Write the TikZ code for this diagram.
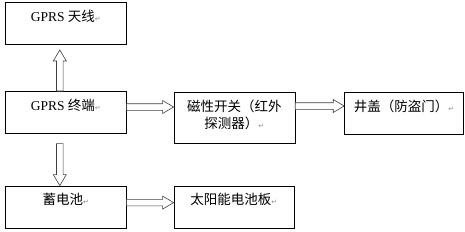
\documentclass[tikz,border=0pt]{standalone}
\usepackage{fontspec}
\setmainfont{Liberation Serif}
\newfontfamily\cjk{Noto Sans CJK SC}
\newfontfamily\retfont{DejaVu Sans}
\usetikzlibrary{positioning, calc}
\newcommand{\retmark}{{\retfont\fontsize{7}{7}\selectfont\color{black!45}↵}}
% hollow block arrow from #1 to #2 (tip at #2)
\newcommand{\hollowarrow}[2]{%
  \coordinate (hb) at ($(#2)!11pt!(#1)$);
  \draw[hollow] ($(#1)!3.3pt!90:(#2)$) -- ($(hb)!3.3pt!90:(#2)$) -- ($(hb)!6.5pt!90:(#2)$)
    -- (#2) -- ($(hb)!6.5pt!-90:(#2)$) -- ($(hb)!3.3pt!-90:(#2)$) -- ($(#1)!3.3pt!-90:(#2)$) -- cycle;
}

\begin{document}
\begin{tikzpicture}[
      node distance=46pt and 47pt,
      box/.style={draw, line width=0.6pt, minimum width=121pt, inner xsep=2pt, inner ysep=0pt, text height=19pt, text depth=23pt, align=center, font=\fontsize{13.5}{17}\selectfont},
      tall/.style={box, text height=36pt, text depth=15pt},
      hollow/.style={draw=black!75, fill=white, line width=0.6pt, line join=miter}
  ]
    \useasboundingbox (0,0) rectangle (465pt,231pt);

    \node[box, anchor=north west] (term) at (5pt,140pt) {GPRS {\cjk 终端}\retmark};
    \node[box, above=of term] (antenna) {GPRS {\cjk 天线}\retmark};
    \node[box, below=52pt of term] (battery) {{\cjk 蓄电池}\retmark};

    \node[tall, right=47pt of term.north east, anchor=north west, yshift=-1pt] (switch) {{\cjk 磁性开关（红外}\\{\cjk 探测器）}\retmark};
    \node[box, right=49pt of switch.north east, anchor=north west, minimum width=119pt] (cover) {{\cjk 井盖（防盗门）}\retmark};
    \node[box, right=of battery, minimum width=120pt] (solar) {{\cjk 太阳能电池板}\retmark};

    % arrow ends
    \coordinate (up0) at ([xshift=-6pt]term.north);
    \coordinate (up1) at ([xshift=-6pt,yshift=-5pt]antenna.south);
    \coordinate (dn0) at ([xshift=-6pt,yshift=-10pt]term.south);
    \coordinate (dn1) at ([xshift=-6pt]battery.north);
    \coordinate (sw0) at ([yshift=-16pt]term.north east);
    \coordinate (sw1) at (sw0 -| switch.west);
    \coordinate (cv0) at ([yshift=-14pt]switch.north east);
    \coordinate (cv1) at (cv0 -| cover.west);
    \coordinate (so0) at ([yshift=-17pt]battery.north east);
    \coordinate (so1) at (so0 -| solar.west);

    \hollowarrow{up0}{up1}
    \hollowarrow{dn0}{dn1}
    \hollowarrow{sw0}{sw1}
    \hollowarrow{cv0}{cv1}
    \hollowarrow{so0}{so1}
  \end{tikzpicture}
\end{document}
